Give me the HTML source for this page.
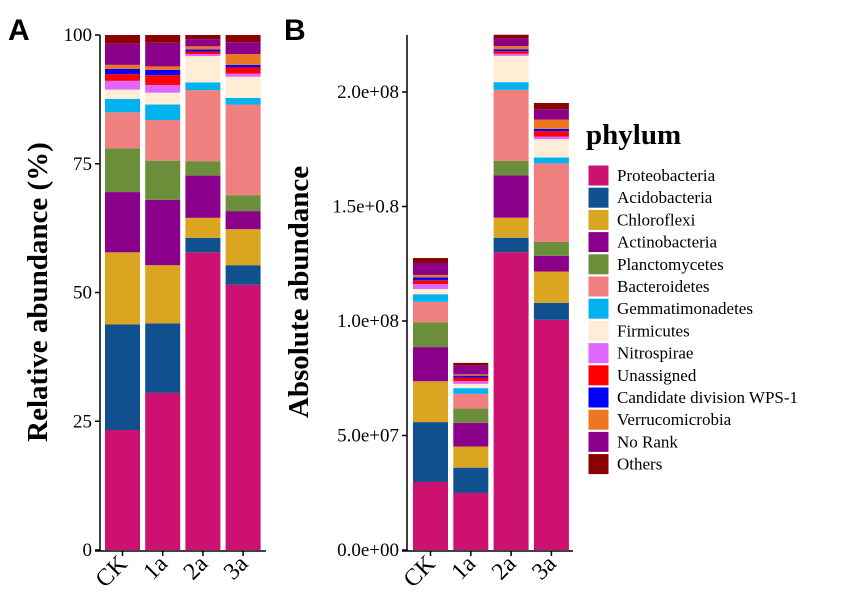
<!DOCTYPE html>
<html><head><meta charset="utf-8"><style>
html,body{margin:0;padding:0;background:#fff;}
svg{display:block;font-family:"Liberation Serif",serif;}
</style></head><body>
<svg id="chart" width="854" height="596" viewBox="0 0 854 596">
</svg>
<script>
const samples = ["CK","1a","2a","3a"];
const phyla = ["Proteobacteria","Acidobacteria","Chloroflexi","Actinobacteria","Planctomycetes","Bacteroidetes","Gemmatimonadetes","Firmicutes","Nitrospirae","Unassigned","Candidate division WPS-1","Verrucomicrobia","No Rank","Others"];
const colors = ["#CC1170","#11508E","#DAA520","#8B008B","#6B8E3A","#F08080","#00B2EE","#FFEED5","#E066FF","#FF0000","#0000FF","#EE7621","#8B008B","#8B0000"];
// cumulative top (%) of each phylum per sample
const cumCK = [23.3,43.8,57.8,69.5,78.0,85.0,87.6,89.4,91.1,92.4,93.4,94.2,98.3,100];
const cum1a = [30.5,44.0,55.3,68.0,75.6,83.5,86.5,88.8,90.3,92.2,93.2,93.9,98.5,100];
const cum2a = [57.8,60.6,64.5,72.7,75.5,89.3,90.8,95.9,96.3,96.8,97.2,97.8,99.2,100];
const cum3a = [51.5,55.3,62.3,65.8,68.9,86.5,87.8,91.9,92.5,93.7,94.2,96.3,98.6,100];
const totals = [1.275e8,8.17e7,2.25e8,1.952e8];
const relTicks = [0,25,50,75,100];
const absTicks = [0,5e7,1e8,1.5e8,2e8];
const absTickLabels = ["0.0e+00","5.0e+07","1.0e+08","1.5e+0.8","2.0e+08"];

const cums = [cumCK,cum1a,cum2a,cum3a];
const NS="http://www.w3.org/2000/svg";
const svg=document.getElementById('chart');
function mk(tag,attrs,parent){const e=document.createElementNS(NS,tag);for(const k in attrs)e.setAttribute(k,attrs[k]);(parent||svg).appendChild(e);return e;}

const y0=550;
const yRel=v=>y0-v*(550-35)/100;
const yAbs=v=>y0-v*(550-92)/2e8;
const xRel=i=>105+i*40.2;
const xAbs=i=>413+i*40.3;
const bw=35;

function panel(xf,yf,isAbs,axisX,axisEnd){
  cums.forEach((c,si)=>{
    const g=mk('g',{});
    
    
    let prev=0;
    c.forEach((v,pi)=>{
      const lo=isAbs?prev/100*totals[si]:prev, hi=isAbs?v/100*totals[si]:v;
      const r=mk('rect',{x:xf(si),y:yf(hi),width:bw,height:Math.max(0,yf(lo)-yf(hi)),fill:colors[pi]},g);
      
      
      prev=v;
    });
    const t=mk('text',{transform:`translate(${xf(si)+bw/2+6},565) rotate(-45)`,'text-anchor':'end','font-size':24,fill:'#000'});
    t.textContent=samples[si];
    
    
    mk('line',{x1:xf(si)+bw/2,x2:xf(si)+bw/2,y1:551,y2:556,stroke:'#000','stroke-width':1.5});
  });
  const ya=mk('line',{x1:axisX,x2:axisX,y1:35,y2:551,stroke:'#000','stroke-width':1.5});
  
  const xa=mk('line',{x1:axisX-5,x2:axisEnd,y1:551,y2:551,stroke:'#000','stroke-width':1.5});
  
  const ticks=isAbs?absTicks:relTicks;
  ticks.forEach((v,i)=>{
    mk('line',{x1:axisX-5,x2:axisX,y1:yf(v),y2:yf(v),stroke:'#000','stroke-width':1.5});
    const t=mk('text',{x:axisX-8,y:yf(v)+6,'text-anchor':'end','font-size':19,fill:'#000'});
    t.textContent=isAbs?absTickLabels[i]:String(v);
    
    
  });
}
panel(xRel,yRel,false,100,266);
panel(xAbs,yAbs,true,407,573);

function txt(s,attrs,name){const t=mk('text',attrs);t.textContent=s;return t;}
txt('Relative abundance (%)',{transform:'translate(47,292) rotate(-90)','text-anchor':'middle','font-size':29,'font-weight':'bold'},'y-axis-title-relative');
txt('Absolute abundance',{transform:'translate(308,292) rotate(-90)','text-anchor':'middle','font-size':29,'font-weight':'bold'},'y-axis-title-absolute');
txt('A',{x:8,y:40,'font-size':30,'font-weight':'bold','font-family':'Liberation Sans, sans-serif'},'panel-label-a');
txt('B',{x:284,y:40,'font-size':30,'font-weight':'bold','font-family':'Liberation Sans, sans-serif'},'panel-label-b');
txt('phylum',{x:586,y:144,'font-size':29,'font-weight':'bold'},'legend-title');
phyla.forEach((p,i)=>{
  const g=mk('g',{});
  
  
  const y=165+i*22.2;
  mk('rect',{x:588,y:y,width:21,height:21,fill:colors[i],stroke:'#fff','stroke-width':1},g);
  const t=mk('text',{x:617,y:y+16,'font-size':17},g);t.textContent=p;
});
</script>
</body></html>
